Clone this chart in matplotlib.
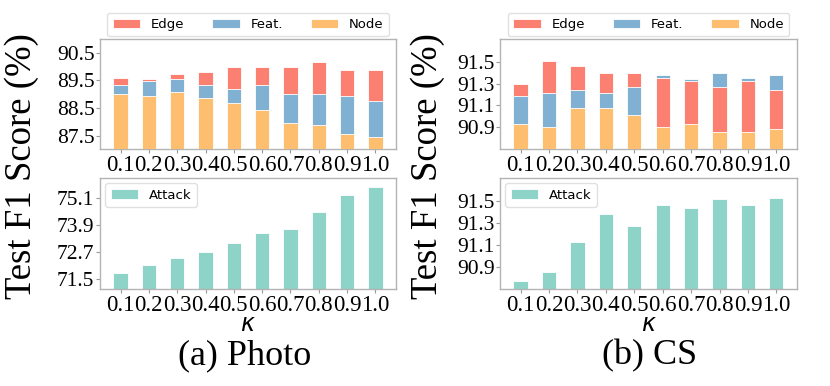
import numpy as np
import matplotlib
matplotlib.use("Agg")
from matplotlib import pyplot as plt

kappa = ["0.1", "0.2", "0.3", "0.4", "0.5", "0.6", "0.7", "0.8", "0.9", "1.0"]

# Photo
photo_edge = [89.60, 89.56, 89.74, 89.81, 90.00, 90.00, 90.00, 90.15, 89.87, 89.87]
photo_feat = [89.35, 89.48, 89.56, 89.35, 89.20, 89.35, 89.01, 89.01, 88.95, 88.76]
photo_node = [89.01, 88.95, 89.07, 88.88, 88.69, 88.44, 87.96, 87.90, 87.57, 87.44]
photo_attack = [71.77, 72.09, 72.42, 72.69, 73.09, 73.52, 73.71, 74.47, 75.22, 75.59]

# CS
cs_edge = [91.30, 91.51, 91.46, 91.40, 91.40, 91.355, 91.32, 91.27, 91.32, 91.245]
cs_feat = [91.19, 91.21, 91.245, 91.21, 91.27, 91.38, 91.34, 91.40, 91.35, 91.38]
cs_node = [90.93, 90.905, 91.08, 91.08, 91.01, 90.905, 90.93, 90.857, 90.857, 90.885]
cs_attack = [90.774, 90.857, 91.132, 91.386, 91.27, 91.465, 91.435, 91.517, 91.465, 91.527]

photo_top_ticks = [87.5, 88.5, 89.5, 90.5]
photo_bot_ticks = [71.5, 72.7, 73.9, 75.1]
cs_ticks = [90.9, 91.1, 91.3, 91.5]

C_EDGE = "#fb8072"
C_FEAT = "#80b1d3"
C_NODE = "#fdbf6f"
C_ATT = "#8dd3c7"

SERIF = "Liberation Serif"

fig = plt.figure(figsize=(8.3, 3.86), dpi=100)


def style_axes(ax, ylim, yticks):
    ax.set_ylim(*ylim)
    ax.set_yticks(yticks)
    ax.set_yticklabels(["%.1f" % t for t in yticks])
    ax.set_xticks(np.arange(len(kappa)))
    ax.set_xticklabels(kappa)
    for lab in ax.get_xticklabels():
        lab.set_fontfamily(SERIF)
        lab.set_fontsize(16.5)
    for lab in ax.get_yticklabels():
        lab.set_fontfamily(SERIF)
        lab.set_fontsize(15.5)
    for s in ax.spines.values():
        s.set_color("0.7")
        s.set_linewidth(1.0)
    ax.tick_params(length=3, color="0.6", pad=1)
    ax.set_xlim(-0.725, 9.725)


def stacked(ax, edge, feat, node, ylim, yticks):
    x = np.arange(len(kappa))
    series = [("Edge", edge, C_EDGE), ("Feat.", feat, C_FEAT), ("Node", node, C_NODE)]
    vals = np.array([edge, feat, node])
    handles = []
    for name, v, c in series:
        bars = ax.bar(x, np.array(v) - ylim[0], 0.5, bottom=ylim[0], color=c,
                      edgecolor="white", linewidth=0.6, label=name)
        # taller bars sit behind shorter ones
        for i, p in enumerate(bars):
            rank = (vals[:, i] > v[i]).sum()
            p.set_zorder(2 + rank)
        handles.append(bars)
    style_axes(ax, ylim, yticks)
    ax.legend(handles=handles, ncol=3, loc="lower center", bbox_to_anchor=(0.5, 1.0),
              fontsize=9.5, handlelength=2.1, columnspacing=2.1, borderaxespad=0.2,
              frameon=True, edgecolor="0.85", fancybox=True)


def attack(ax, vals, ylim, yticks):
    x = np.arange(len(kappa))
    ax.bar(x, np.array(vals) - ylim[0], 0.5, bottom=ylim[0], color=C_ATT,
           edgecolor="white", linewidth=0.6, label="Attack")
    style_axes(ax, ylim, yticks)
    ax.legend(loc="upper left", fontsize=9.5, handlelength=2.1, borderaxespad=0.4,
              edgecolor="0.85")


ax1 = fig.add_axes([0.1205, 0.614, 0.3566, 0.285])
stacked(ax1, photo_edge, photo_feat, photo_node, (87.02, 91.0), photo_top_ticks)
ax2 = fig.add_axes([0.1205, 0.2513, 0.3566, 0.2876])
attack(ax2, photo_attack, (71.04, 76.0), photo_bot_ticks)

ax3 = fig.add_axes([0.6024, 0.614, 0.3578, 0.285])
stacked(ax3, cs_edge, cs_feat, cs_node, (90.70, 91.71), cs_ticks)
ax4 = fig.add_axes([0.6024, 0.2513, 0.3578, 0.2876])
attack(ax4, cs_attack, (90.70, 91.71), cs_ticks)

# shared labels
for xc in (22, 428):
    fig.text(xc / 830, 1 - 166 / 386, "Test F1 Score (%)", rotation=90,
             ha="center", va="center", fontsize=26.5, fontfamily=SERIF)
for xc in (248, 649):
    fig.text(xc / 830, 1 - 324 / 386, r"$\kappa$", ha="center", va="center", fontsize=17)
fig.text(245 / 830, 1 - 356 / 386, "(a) Photo", ha="center", va="center",
         fontsize=26, fontfamily=SERIF)
fig.text(650 / 830, 1 - 356 / 386, "(b) CS", ha="center", va="center",
         fontsize=26, fontfamily=SERIF)

fig.savefig("out.png", dpi=100)
